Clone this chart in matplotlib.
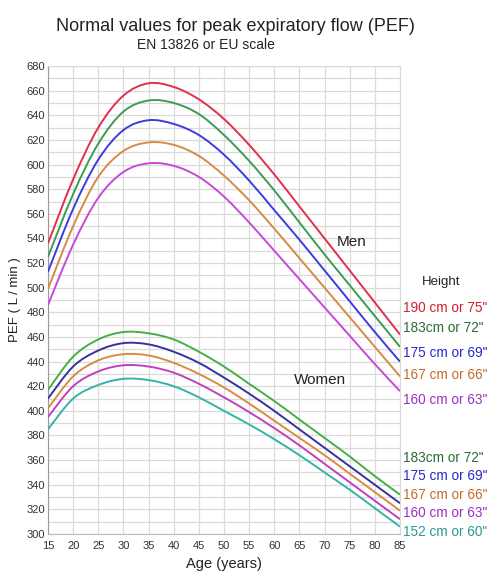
import numpy as np
import matplotlib
matplotlib.use("Agg")
import matplotlib.pyplot as plt
from matplotlib.path import Path
from matplotlib.patches import PathPatch

plt.rcParams['font.family'] = ['Liberation Sans', 'DejaVu Sans']

# Age (years)
ages = [15, 20, 25, 30, 35, 40, 45, 50, 55, 60, 65, 70, 75, 80, 85]

# Men, PEF (L/min)
men_190 = [536, 588, 630, 656, 666, 663, 653, 637, 616, 592, 566, 540, 514, 488, 462]
men_183 = [525, 576, 617, 643, 652, 650, 641, 624, 603, 579, 553, 527, 502, 477, 452]
men_175 = [513, 564, 604, 628, 636, 633, 624, 608, 587, 563, 539, 514, 489, 464, 440]
men_167 = [499, 550, 590, 611, 618, 616, 607, 591, 571, 548, 524, 500, 476, 452, 428]
men_160 = [486, 535, 573, 594, 601, 599, 590, 574, 553, 530, 507, 484, 461, 438, 416]

# Women, PEF (L/min)
women_183 = [417, 444, 458, 464, 463, 458, 448, 436, 422, 408, 393, 378, 363, 347, 332]
women_175 = [410, 436, 449, 455, 454, 448, 439, 427, 414, 400, 385, 370, 355, 340, 325]
women_167 = [402, 428, 441, 446, 445, 439, 430, 419, 406, 392, 378, 364, 349, 334, 319]
women_160 = [395, 420, 432, 437, 436, 431, 422, 411, 399, 386, 372, 357, 342, 327, 312]
women_152 = [385, 410, 421, 426, 425, 420, 411, 400, 389, 377, 364, 350, 336, 321, 306]

men_labels = ['190 cm or 75"', '183cm or 72"', '175 cm or 69"', '167 cm or 66"', '160 cm or 63"']
women_labels = ['183cm or 72"', '175 cm or 69"', '167 cm or 66"', '160 cm or 63"', '152 cm or 60"']


def courbe_lisse(ax, x, y, color):
    """Trace une courbe lisse (Catmull-Rom -> Bezier) passant par les points"""
    x = np.asarray(x, float)
    y = np.asarray(y, float)
    verts = [(x[0], y[0])]
    codes = [Path.MOVETO]
    n = len(x)
    for i in range(n - 1):
        x0, y0 = (x[i - 1], y[i - 1]) if i > 0 else (x[i], y[i])
        x3, y3 = (x[i + 2], y[i + 2]) if i + 2 < n else (x[i + 1], y[i + 1])
        c1 = (x[i] + (x[i + 1] - x0) / 6, y[i] + (y[i + 1] - y0) / 6)
        c2 = (x[i + 1] - (x3 - x[i]) / 6, y[i + 1] - (y3 - y[i]) / 6)
        verts += [c1, c2, (x[i + 1], y[i + 1])]
        codes += [Path.CURVE4] * 3
    ax.add_patch(PathPatch(Path(verts, codes), facecolor='none',
                           edgecolor=color, lw=1.4, zorder=3))


fig = plt.figure(figsize=(5.03, 5.86), dpi=100)
ax = fig.add_axes([0.0954, 0.0887, 0.6998, 0.7986])

men_series = [men_190, men_183, men_175, men_167, men_160]
men_colors = ['#e0304c', '#3c9c50', '#3c3ce0', '#d48c44', '#c848d8']
men_text_colors = ['#d0202c', '#2e6a34', '#2828d0', '#c46a2c', '#9a30c4']
women_series = [women_183, women_175, women_167, women_160, women_152]
women_colors = ['#44b044', '#34349c', '#d88c40', '#c040c0', '#34b4a8']
women_text_colors = ['#2e6a34', '#2828d0', '#c46a2c', '#9a30c4', '#2a9a8c']

for s, c in zip(men_series, men_colors):
    courbe_lisse(ax, ages, s, c)
for s, c in zip(women_series, women_colors):
    courbe_lisse(ax, ages, s, c)

ax.set_xlim(15, 85)
ax.set_ylim(300, 680)
ax.set_xticks(np.arange(15, 86, 5))
ax.set_yticks(np.arange(300, 681, 20))
ax.set_yticks(np.arange(310, 680, 20), minor=True)
ax.grid(True, which='both', color='#dadada', lw=0.9)
ax.set_axisbelow(True)
ax.tick_params(axis='both', which='both', length=0, labelsize=8, colors='#333333', pad=2)
ax.tick_params(axis='x', pad=5)
for sp in ax.spines.values():
    sp.set_color('#dadada')
ax.spines['left'].set_color('#999999')
ax.spines['bottom'].set_color('#bbbbbb')

ax.set_xlabel('Age (years)', fontsize=10.5, color='#222222', labelpad=4)
ax.set_ylabel('PEF ( L / min )', fontsize=9.5, color='#222222', labelpad=4)

fig.text(0.468, 0.955, 'Normal values for peak expiratory flow (PEF)',
         ha='center', va='center', fontsize=13, color='#222222')
fig.text(0.41, 0.924, 'EN 13826 or EU scale', ha='center', va='center',
         fontsize=10, color='#222222')

ax.text(75.4, 537, 'Men', fontsize=11, color='#222222', ha='center', va='center')
ax.text(69.0, 425, 'Women', fontsize=11, color='#222222', ha='center', va='center')
ax.text(93.1, 505, 'Height', fontsize=9.5, color='#222222', ha='center',
        va='center', clip_on=False)

men_y = [483.5, 467.3, 447, 429, 408.8]
women_y = [361.7, 347, 331.7, 317, 301.6]
for lab, yy, c in zip(men_labels, men_y, men_text_colors):
    ax.text(85.6, yy, lab, fontsize=9.8, color=c, ha='left', va='center', clip_on=False)
for lab, yy, c in zip(women_labels, women_y, women_text_colors):
    ax.text(85.6, yy, lab, fontsize=9.8, color=c, ha='left', va='center', clip_on=False)

fig.savefig('out.png', dpi=100, facecolor='white')
